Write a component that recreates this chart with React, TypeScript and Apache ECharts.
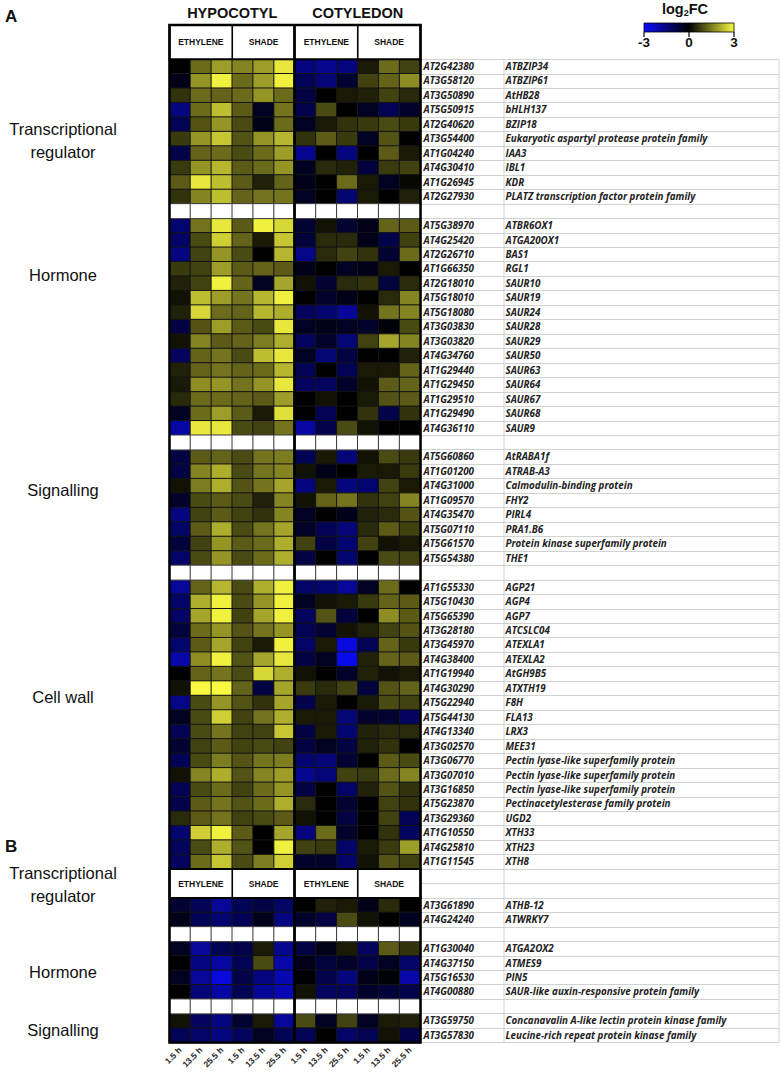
import React, { useEffect, useRef } from 'react';
import * as echarts from 'echarts';

// ---------- data ----------
const TIME_LABELS = ['1.5 h', '13.5 h', '25.5 h'];
const COLUMN_KEYS = ['HE1', 'HE2', 'HE3', 'HS1', 'HS2', 'HS3', 'CE1', 'CE2', 'CE3', 'CS1', 'CS2', 'CS3'];
const TISSUES = ['HYPOCOTYL', 'COTYLEDON'];
const TREATMENTS = ['ETHYLENE', 'SHADE'];

const TRANS_A_GENES = ['AT2G42380', 'AT3G58120', 'AT3G50890', 'AT5G50915', 'AT2G40620', 'AT3G54400', 'AT1G04240', 'AT4G30410', 'AT1G26945', 'AT2G27930'];
const TRANS_A_NAMES = ['ATBZIP34', 'ATBZIP61', 'AtHB28', 'bHLH137', 'BZIP18', 'Eukaryotic aspartyl protease protein family', 'IAA3', 'IBL1', 'KDR', 'PLATZ transcription factor protein family'];
const TRANS_A_VALUES = [
  [0, 1.3, 1.9, 1.6, 1.9, 2.8, -1.5, -1.7, -1.5, 0.3, 1.3, 0.8],
  [-0.3, 1.8, 2.9, 1.3, 1.9, 2.9, -1.0, -1.4, -0.6, 0.8, 1.2, 1.7],
  [0.6, 1.3, 1.2, 1.3, 1.8, 1.3, -0.8, 0, 0.3, 0.4, 0.8, 0.5],
  [-1.5, 1.3, 2.3, 1.1, -0.4, 1.4, -0.9, 0.9, 0, -0.4, -1.0, -0.5],
  [-1.0, 1.0, 1.8, 0.9, -0.3, 1.3, -0.4, 0.3, 0.6, 0.7, 0.9, 0.7],
  [0.7, 1.8, 2.4, 1.0, 1.8, 2.2, 0.6, 1.1, 0.7, -0.4, 1.0, 0],
  [-0.9, 1.2, 1.3, 0.9, 1.3, 1.9, -1.7, 0, -1.5, 0, 1.1, 0.3],
  [0.7, 1.8, 2.2, 1.1, 1.3, 1.8, -0.4, 0.5, 0.4, -0.7, 0.7, 0.8],
  [1.1, 2.8, 2.3, 1.1, 0.4, 1.2, -0.3, 0, 1.3, 0.3, -0.4, 0.1],
  [0.6, 1.6, 2.3, 1.2, 1.4, 1.4, -0.4, 0, -1.3, 0.3, 0, 0.4],
];

const HORMONE_A_GENES = ['AT5G38970', 'AT4G25420', 'AT2G26710', 'AT1G66350', 'AT2G18010', 'AT5G18010', 'AT5G18080', 'AT3G03830', 'AT3G03820', 'AT4G34760', 'AT1G29440', 'AT1G29450', 'AT1G29510', 'AT1G29490', 'AT4G36110'];
const HORMONE_A_NAMES = ['ATBR6OX1', 'ATGA20OX1', 'BAS1', 'RGL1', 'SAUR10', 'SAUR19', 'SAUR24', 'SAUR28', 'SAUR29', 'SAUR50', 'SAUR63', 'SAUR64', 'SAUR67', 'SAUR68', 'SAUR9'];
const HORMONE_A_VALUES = [
  [-1.3, 1.4, 2.8, 1.1, 2.9, 2.6, -0.6, 0.2, -0.6, -0.3, 1.2, 1.1],
  [-1.2, 0.9, 2.5, 1.2, 0.3, 2.4, -0.7, 0.5, 0.5, -0.3, -0.9, 0.8],
  [-1.5, 0.8, 1.8, 0.9, 0, 2.2, -1.6, 0.5, 0.8, 0.6, -0.6, 1.3],
  [0.7, 0.8, 1.9, 1.1, 1.2, 1.1, -0.3, 0, -0.4, -0.3, 0.3, 0],
  [0.4, 0.8, 2.9, 1.2, -0.4, 2.0, 0.2, -0.6, 0.5, 0.6, -0.7, 0.5],
  [0.2, 2.3, 1.9, 1.4, 2.2, 2.9, 0, -0.5, -0.3, 0, 0.5, 1.6],
  [0.4, 2.6, 1.3, 1.2, 2.2, 2.1, -1.1, -1.3, -1.8, 0.2, 1.4, 1.6],
  [-0.8, 1.0, 1.9, 1.1, 0.9, 2.8, -0.4, -0.3, -0.4, -0.5, -0.1, 0.9],
  [0.2, 1.6, 1.1, 1.2, 1.5, 2.1, -1.1, -0.5, -1.4, 0.8, 2.0, 1.6],
  [-1.1, 1.2, 1.4, 0.9, 2.3, 2.8, -0.4, -1.4, -0.8, 0, 0, 0.4],
  [0.4, 1.2, 1.4, 1.2, 1.3, 2.2, -1.0, 0, -1.0, 0.3, 0.3, 1.2],
  [0.3, 1.7, 1.8, 1.4, 1.8, 2.8, -1.1, -1.1, -0.5, 0.2, 1.1, 1.2],
  [0.5, 1.3, 1.3, 1.2, 1.1, 1.9, 0, 0.2, 0, 0.3, 1.0, 1.1],
  [-0.4, 1.3, 1.9, 1.1, 0.3, 2.7, 0, -1.0, 0, 0.6, -0.9, 0.6],
  [-1.9, 2.8, 2.8, 0.9, 0.8, 1.4, -1.9, -0.9, 0.9, 0.2, 0, 0],
];

const SIGNAL_A_GENES = ['AT5G60860', 'AT1G01200', 'AT4G31000', 'AT1G09570', 'AT4G35470', 'AT5G07110', 'AT5G61570', 'AT5G54380'];
const SIGNAL_A_NAMES = ['AtRABA1f', 'ATRAB-A3', 'Calmodulin-binding protein', 'FHY2', 'PIRL4', 'PRA1.B6', 'Protein kinase superfamily protein', 'THE1'];
const SIGNAL_A_VALUES = [
  [-0.8, 1.1, 1.2, 0.9, 1.4, 1.5, -1.0, 0.3, -1.4, 0.2, 0.9, 0.7],
  [-0.8, 1.6, 2.1, 0.9, 1.4, 1.6, 0.2, -0.3, 0, 0.3, 0.3, 0.7],
  [0.2, 1.5, 2.1, 1.0, 1.4, 2.0, -1.5, 0.3, -1.5, -1.3, 0.8, 0.3],
  [-0.5, 0.9, 1.1, 0.9, 0.4, 1.6, 0.2, 1.2, 1.4, 0.6, 0.8, 1.6],
  [-1.5, 0.8, 1.1, 0.8, 0.6, 1.6, -0.4, 0, -0.3, 0.4, 0.5, 1.0],
  [-1.2, 1.1, 2.1, 0.9, 1.4, 2.0, -0.5, -1.0, -1.4, 0.5, 1.1, 0.8],
  [-0.7, 0.8, 1.8, 1.1, 1.3, 2.1, 0.8, -0.8, -1.3, 0.8, 0.2, 0.3],
  [-1.2, 0.9, 1.8, 0.9, 1.3, 2.1, -0.8, 0, -1.3, 0, 0.9, 0.8],
];

const CELLWALL_A_GENES = ['AT1G55330', 'AT5G10430', 'AT5G65390', 'AT3G28180', 'AT3G45970', 'AT4G38400', 'AT1G19940', 'AT4G30290', 'AT5G22940', 'AT5G44130', 'AT4G13340', 'AT3G02570', 'AT3G06770', 'AT3G07010', 'AT3G16850', 'AT5G23870', 'AT3G29360', 'AT1G10550', 'AT4G25810', 'AT1G11545'];
const CELLWALL_A_NAMES = ['AGP21', 'AGP4', 'AGP7', 'ATCSLC04', 'ATEXLA1', 'ATEXLA2', 'AtGH9B5', 'ATXTH19', 'F8H', 'FLA13', 'LRX3', 'MEE31', 'Pectin lyase-like superfamily protein', 'Pectin lyase-like superfamily protein', 'Pectin lyase-like superfamily protein', 'Pectinacetylesterase family protein', 'UGD2', 'XTH33', 'XTH23', 'XTH8'];
const CELLWALL_A_VALUES = [
  [-1.8, 1.2, 2.2, 0.9, 2.1, 2.9, -1.2, -1.3, -1.8, -0.4, 1.3, 0],
  [-1.2, 2.1, 2.9, 0.9, 1.8, 2.9, -0.4, 0.2, 0.3, 0.7, 1.2, 1.1],
  [-1.2, 2.0, 2.9, 0.8, 2.0, 2.9, -1.1, 1.0, -0.7, 0, 1.7, 1.1],
  [-0.7, 1.3, 1.8, 1.0, 1.4, 1.8, -1.0, -0.6, 0.2, 0.4, 0.8, 1.0],
  [-1.3, 1.1, 2.0, 0.8, 0.3, 2.9, -1.2, 0.3, -2.6, -1.0, 1.2, 0.7],
  [-2.0, 1.7, 2.9, 1.0, 2.0, 2.8, -0.8, -0.4, -2.8, 0.4, 1.2, 1.1],
  [0, 1.2, 1.4, 0.9, 2.6, 2.1, 0.2, 0, -0.5, 0.4, 0.2, 0.3],
  [0.2, 3.0, 3.0, 1.2, -0.8, 2.0, 0.7, 0.5, 0.8, -0.7, 1.0, 1.2],
  [-1.6, 0.9, 1.8, 1.0, 0.6, 2.0, -0.9, 0.3, 0, 0.3, 0.9, 0.8],
  [-0.4, 0.9, 2.5, 0.8, 1.4, 2.1, 0.3, 0.3, -1.4, -0.5, -0.6, -1.1],
  [-1.0, 0.9, 1.4, 0.8, 0.8, 2.4, -0.8, 0.3, -1.3, 0.4, 0.5, 0.5],
  [-0.6, 0.8, 1.1, 0.8, 0.9, 0.8, -0.8, -0.4, -0.8, 0.4, 0.6, 0],
  [-1.0, 0.9, 1.5, 1.0, 1.4, 1.5, -1.3, -1.4, -0.6, 0, 1.1, 0.9],
  [0.2, 1.6, 2.1, 1.0, 1.6, 1.9, -1.7, -1.4, 0.8, 0.7, 1.3, 1.6],
  [-1.0, 0.9, 1.3, 0.8, 1.3, 1.8, -0.8, 0, -1.2, 0.4, 1.0, 0.6],
  [-0.9, 1.1, 1.4, 1.0, 1.3, 2.1, 0.5, 0, -0.6, 0, 0.8, 0.6],
  [0.5, 1.1, 1.4, 0.8, 0.9, 1.1, 0.2, 0, -0.8, 0, 0.8, -1.0],
  [-1.3, 2.5, 2.9, 1.1, 0, 2.0, -1.5, 1.3, -0.5, 0, 0.6, -1.1],
  [-1.1, 0.9, 2.1, 1.0, 0, 2.9, 0.8, 0.7, -1.2, 0.3, 0.7, 1.9],
  [-1.1, 1.3, 2.4, 0.9, 1.5, 2.5, -0.5, -0.5, -1.2, 0.2, 1.0, 0.8],
];

const TRANS_B_GENES = ['AT3G61890', 'AT4G24240'];
const TRANS_B_NAMES = ['ATHB-12', 'ATWRKY7'];
const TRANS_B_VALUES = [
  [-0.6, -1.0, -1.8, -1.0, -0.8, -1.2, 0, 0.4, 0.3, -0.3, 0.5, 0],
  [-0.3, -1.0, -1.3, -1.0, -0.3, -1.5, -0.5, -0.8, 0.9, 0.2, 0, -0.4],
];

const HORMONE_B_GENES = ['AT1G30040', 'AT4G37150', 'AT5G16530', 'AT4G00880'];
const HORMONE_B_NAMES = ['ATGA2OX2', 'ATMES9', 'PIN5', 'SAUR-like auxin-responsive protein family'];
const HORMONE_B_VALUES = [
  [-0.4, -1.8, -1.0, -0.9, 0.3, -1.7, -0.8, -0.3, 0.3, -1.1, 1.1, 0.6],
  [0, -1.5, -1.9, -1.0, 0.9, -2.0, -0.3, -0.7, -0.5, -0.9, -0.4, -1.2],
  [-0.4, -1.8, -2.6, -0.9, -1.5, -2.1, 0, -0.9, -1.5, -0.3, -0.1, -2.0],
  [0, -1.4, -1.9, -1.0, -1.8, -2.1, 0.2, -1.1, -1.1, -0.5, -0.7, -0.9],
];

const SIGNAL_B_GENES = ['AT3G59750', 'AT3G57830'];
const SIGNAL_B_NAMES = ['Concanavalin A-like lectin protein kinase family', 'Leucine-rich repeat protein kinase family'];
const SIGNAL_B_VALUES = [
  [0.2, -1.1, -1.5, -0.6, 0.3, -1.8, 0.9, -0.4, 0.8, -0.4, 0.3, 0.4],
  [-1.0, -1.2, -1.5, -1.1, -0.4, -1.0, -1.0, 0, -1.2, -1.0, 0.2, -0.9],
];

// ---------- layout ----------
const W = 781;
const H = 1075;
const GRID_LEFT = 169.5;
const GRID_W = 251;
const TOP = 59.3;
const ROW_H = 14.46;
const HEADER_TOP = 25;
const TABLE_RIGHT = 779;
const TABLE_SPLIT = 504;
const COL_W = GRID_W / COLUMN_KEYS.length;

type Row = { kind: 'gene' | 'blank' | 'header'; id?: string; name?: string; values?: number[] };

function section(ids: string[], names: string[], vals: number[][]): Row[] {
  return ids.map((id, i) => ({ kind: 'gene' as const, id, name: names[i], values: vals[i] }));
}
const BLANK: Row = { kind: 'blank' };
const HEAD: Row = { kind: 'header' };

const ROWS: Row[] = [
  ...section(TRANS_A_GENES, TRANS_A_NAMES, TRANS_A_VALUES), BLANK,
  ...section(HORMONE_A_GENES, HORMONE_A_NAMES, HORMONE_A_VALUES), BLANK,
  ...section(SIGNAL_A_GENES, SIGNAL_A_NAMES, SIGNAL_A_VALUES), BLANK,
  ...section(CELLWALL_A_GENES, CELLWALL_A_NAMES, CELLWALL_A_VALUES),
  HEAD, HEAD,
  ...section(TRANS_B_GENES, TRANS_B_NAMES, TRANS_B_VALUES), BLANK,
  ...section(HORMONE_B_GENES, HORMONE_B_NAMES, HORMONE_B_VALUES), BLANK,
  ...section(SIGNAL_B_GENES, SIGNAL_B_NAMES, SIGNAL_B_VALUES),
];

const GRID_H = ROWS.length * ROW_H;
const BOTTOM = TOP + GRID_H;
const rowTop = (i: number) => TOP + i * ROW_H;
const colX = (i: number) => GRID_LEFT + i * COL_W;

const SANS = '"Liberation Sans", Arial, sans-serif';
const LABEL_FONT = '"Open Sans", Lato, sans-serif';

const GROUP_LABELS: { lines: string[]; y: number }[] = [
  { lines: ['Transcriptional', 'regulator'], y: 140 },
  { lines: ['Hormone'], y: 275 },
  { lines: ['Signalling'], y: 490 },
  { lines: ['Cell wall'], y: 697 },
  { lines: ['Transcriptional', 'regulator'], y: 884 },
  { lines: ['Hormone'], y: 972 },
  { lines: ['Signalling'], y: 1030 },
];

function buildOption() {
  const geneCells: number[][] = [];
  const blankCells: number[][] = [];
  ROWS.forEach((r, ri) => {
    if (r.kind === 'gene') r.values!.forEach((v, ci) => geneCells.push([ci, ri, v]));
    if (r.kind === 'blank') COLUMN_KEYS.forEach((_, ci) => blankCells.push([ci, ri, 0]));
  });
  const rowKeys = ROWS.map((_, i) => String(i));
  const headerIdx = ROWS.findIndex((r) => r.kind === 'header');

  const graphics: any[] = [];
  const txt = (x: number, y: number, text: string, fontSize: number, weight: string, align = 'center', extra: any = {}) => ({
    type: 'text', x, y, z: 120,
    style: {
      text, fontSize, fontWeight: weight, fontFamily: SANS, fill: '#111',
      align, textAlign: align, verticalAlign: 'middle', textVerticalAlign: 'middle', ...extra,
    },
  });
  const line = (x1: number, y1: number, x2: number, y2: number, w: number, color = '#000', z = 110) => ({
    type: 'line', z, shape: { x1, y1, x2, y2 }, style: { stroke: color, lineWidth: w },
  });

  // header boxes (panel A and panel B)
  const headerBoxes = [
    { y: HEADER_TOP, h: TOP - HEADER_TOP },
    { y: rowTop(headerIdx), h: 2 * ROW_H },
  ];
  headerBoxes.forEach((b) => {
    graphics.push({ type: 'rect', z: 105, shape: { x: GRID_LEFT, y: b.y, width: GRID_W, height: b.h }, style: { fill: '#fff', stroke: '#000', lineWidth: 2 } });
    graphics.push(line(colX(3), b.y, colX(3), b.y + b.h, 1.6));
    graphics.push(line(colX(9), b.y, colX(9), b.y + b.h, 1.6));
    [0, 1, 2, 3].forEach((k) => {
      graphics.push(txt(colX(k * 3 + 1.5), b.y + b.h / 2, TREATMENTS[k % 2], 8.5, 'bold'));
    });
  });

  // tissue titles
  TISSUES.forEach((t, k) => graphics.push(txt(colX(k * 6 + 3), 12.5, t, 14.5, 'bold')));

  // outer frame and tissue divider
  graphics.push({ type: 'rect', z: 115, shape: { x: GRID_LEFT, y: HEADER_TOP, width: GRID_W, height: BOTTOM - HEADER_TOP }, style: { fill: 'none', stroke: '#000', lineWidth: 2.5 } });
  graphics.push(line(colX(6) - 0.5, HEADER_TOP, colX(6) - 0.5, BOTTOM, 2.8, '#000', 116));

  // table vertical lines
  graphics.push(line(TABLE_SPLIT, TOP, TABLE_SPLIT, BOTTOM, 1, '#d2d2d2', 3));
  graphics.push(line(TABLE_RIGHT, TOP, TABLE_RIGHT, BOTTOM, 1, '#d2d2d2', 3));

  // panel letters
  graphics.push(txt(5, 16, 'A', 17, 'bold', 'left'));
  graphics.push(txt(5, 846, 'B', 17, 'bold', 'left'));

  // group labels
  GROUP_LABELS.forEach((g) => {
    const n = g.lines.length;
    g.lines.forEach((l, k) => {
      graphics.push(txt(63, g.y + (k - (n - 1) / 2) * 23, l, 16.5, 'normal'));
    });
  });

  // colour legend
  const LX0 = 644, LX1 = 734, LY = 23, LH = 9;
  graphics.push({
    type: 'rect', z: 120, shape: { x: LX0, y: LY, width: LX1 - LX0, height: LH },
    style: {
      fill: new echarts.graphic.LinearGradient(0, 0, 1, 0, [
        { offset: 0, color: '#0a0aff' },
        { offset: 0.5, color: '#000000' },
        { offset: 1, color: '#f8f840' },
      ]),
      stroke: '#000', lineWidth: 0.8,
    },
  });
  const legendTicks = [-3, 0, 3];
  legendTicks.forEach((t) => {
    const x = LX0 + ((t + 3) / 6) * (LX1 - LX0);
    graphics.push(line(x, LY + LH, x, LY + LH + 5, 1.2, '#000', 121));
    graphics.push(txt(x, 42, String(t), 13.5, 'bold'));
  });
  graphics.push({
    type: 'text', x: 685, y: 9, z: 120,
    style: {
      text: '{a|log}{s|2}{a|FC}', align: 'center', textAlign: 'center', verticalAlign: 'middle', textVerticalAlign: 'middle',
      rich: {
        a: { fontSize: 14.5, fontWeight: 'bold', fontFamily: SANS, fill: '#111', color: '#111', lineHeight: 16 },
        s: { fontSize: 9, fontWeight: 'bold', fontFamily: SANS, fill: '#111', color: '#111', lineHeight: 16, verticalAlign: 'bottom', padding: [7, 0, 0, 0] },
      },
    },
  });

  const labelBase = { fontFamily: LABEL_FONT, fontWeight: 'bold', fontStyle: 'italic', fontSize: 9.8, color: '#222' };

  return {
    animation: false,
    backgroundColor: '#fff',
    grid: [
      { left: GRID_LEFT, top: TOP, width: GRID_W, height: GRID_H, containLabel: false },
      { left: GRID_LEFT + GRID_W, top: TOP, width: TABLE_RIGHT - GRID_LEFT - GRID_W, height: GRID_H, containLabel: false },
    ],
    xAxis: [
      {
        type: 'category', gridIndex: 0, data: COLUMN_KEYS, position: 'bottom',
        axisLine: { show: false }, axisTick: { show: false }, splitLine: { show: false },
        axisLabel: {
          interval: 0, rotate: 45, margin: 6, fontSize: 8.5, fontWeight: 'bold', fontFamily: SANS, color: '#222',
          formatter: (_v: string, i: number) => TIME_LABELS[i % TIME_LABELS.length],
        },
      },
      { type: 'value', gridIndex: 1, min: 0, max: 1, show: false },
    ],
    yAxis: [
      {
        type: 'category', gridIndex: 0, data: rowKeys, inverse: true, position: 'right',
        axisLine: { show: false }, axisTick: { show: false }, splitLine: { show: false },
        axisLabel: {
          interval: 0, margin: 3,
          formatter: (_v: string, i: number) => {
            const r = ROWS[i];
            return r && r.kind === 'gene' ? `{id|${r.id}}{nm|${r.name}}` : '';
          },
          rich: {
            id: { ...labelBase, width: 82 },
            nm: { ...labelBase },
          },
        },
      },
      {
        type: 'category', gridIndex: 1, data: rowKeys, inverse: true,
        axisLine: { show: false }, axisTick: { show: false }, axisLabel: { show: false },
        splitLine: { show: true, interval: 0, lineStyle: { color: '#d2d2d2', width: 1 } },
      },
    ],
    visualMap: [
      {
        type: 'continuous', show: false, min: -3, max: 3, seriesIndex: 0,
        inRange: { color: ['#0a0aff', '#000000', '#f8f840'] },
      },
      {
        type: 'continuous', show: false, min: 0, max: 1, seriesIndex: 1,
        inRange: { color: ['#ffffff', '#ffffff'] },
      },
    ],
    series: [
      {
        type: 'heatmap', xAxisIndex: 0, yAxisIndex: 0, data: geneCells,
        itemStyle: { borderColor: '#141414', borderWidth: 1 },
        emphasis: { disabled: true },
      },
      {
        type: 'heatmap', xAxisIndex: 0, yAxisIndex: 0, data: blankCells,
        itemStyle: { borderColor: '#3a3a3a', borderWidth: 1 },
        emphasis: { disabled: true },
      },
    ],
    graphic: graphics,
  };
}

export default function App() {
  const ref = useRef<HTMLDivElement>(null);
  useEffect(() => {
    const chart = echarts.init(ref.current!, null, { renderer: 'svg' });
    chart.setOption(buildOption() as any);
    return () => chart.dispose();
  }, []);
  return <div ref={ref} style={{ position: 'absolute', left: 0, top: 0, width: W, height: H, background: '#fff' }} />;
}
